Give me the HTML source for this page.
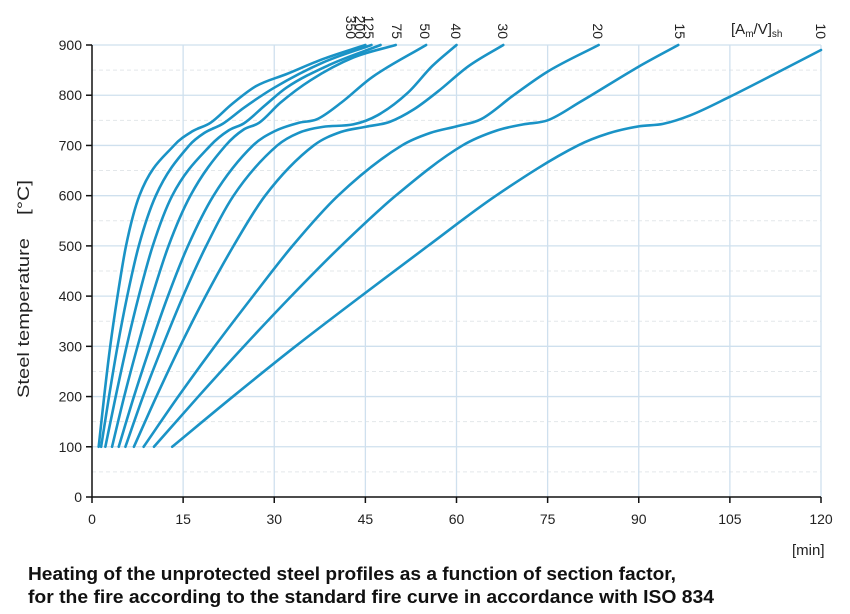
<!DOCTYPE html>
<html><head><meta charset="utf-8"><style>
html,body{margin:0;padding:0;background:#fff;}
svg{display:block;font-family:"Liberation Sans",sans-serif;}
</style></head><body>
<svg id="chart" width="850" height="614" viewBox="0 0 850 614" xmlns="http://www.w3.org/2000/svg">
<g id="grid"></g>
<g id="series"></g>
<g id="axes"></g>
<g id="labels"></g>
<text x="731" y="34" font-size="15" fill="#222">[A<tspan font-size="10" dy="3">m</tspan><tspan dy="-3">/V]</tspan><tspan font-size="10" dy="3">sh</tspan></text>
<text transform="translate(29,398) rotate(-90)" font-size="17" fill="#222" textLength="160" lengthAdjust="spacingAndGlyphs">Steel temperature</text>
<text transform="translate(29,215) rotate(-90)" font-size="17" fill="#222" textLength="35" lengthAdjust="spacingAndGlyphs">[°C]</text>
<text x="792" y="555" font-size="15" fill="#222">[min]</text>
<text x="28" y="580" font-size="18" font-weight="bold" fill="#111" textLength="648" lengthAdjust="spacingAndGlyphs">Heating of the unprotected steel profiles as a function of section factor,</text>
<text x="28" y="603" font-size="18" font-weight="bold" fill="#111" textLength="686" lengthAdjust="spacingAndGlyphs">for the fire according to the standard fire curve in accordance with ISO 834</text>
</svg>
<script>
const seriesNames = ["350","200","125","75","50","40","30","20","15","10"];
const t350 = [1.1,2.0,3.0,4.2,5.6,7.8,13.5,16.5,19.5,23,27,32,38,45];
const v350 = [100,200,300,400,500,600,700,728,745,782,818,842,872,900];
const t200 = [1.5,2.8,4.2,5.8,7.7,10.5,16,18.5,21.5,25,30,38,46];
const v200 = [100,200,300,400,500,600,700,725,743,775,815,865,900];
const t125 = [2.2,3.9,5.7,7.7,10.0,13.2,19.5,22.5,25,28.5,32,39,47.5];
const v125 = [100,200,300,400,500,600,700,730,744,780,815,860,900];
const t75 = [3.3,5.3,7.5,9.9,12.6,16.2,22,25,27.5,31,36,43,50];
const v75 = [100,200,300,400,500,600,700,732,745,785,830,875,900];
const t50 = [4.4,6.9,9.6,12.5,15.8,20.0,26.5,30,34,37,41,46,55];
const v50 = [100,200,300,400,500,600,700,728,745,752,785,835,900];
const t40 = [5.5,8.4,11.6,15.0,18.8,23.3,30.5,34,38,43,47,52,56,60];
const v40 = [100,200,300,400,500,600,700,725,737,742,760,805,858,900];
const t30 = [6.9,10.6,14.5,18.7,23.3,28.5,36.5,41,45,49,53,57,62,67.7];
const v30 = [100,200,300,400,500,600,700,727,737,747,772,808,858,900];
const t20 = [8.5,14.2,20.2,26.5,33,40.5,51,55.7,60,64,69.4,75,83.4];
const v20 = [100,200,300,400,500,600,700,725,738,752,800,847,900];
const t15 = [10.2,17.5,25,32.8,41,50,61,66.7,71,75,80.4,90,96.5];
const v15 = [100,200,300,400,500,600,700,730,742,750,787,857,900];
const t10 = [13.2,23.2,33.5,44.3,55.3,66.5,80,85,90,94,98.5,105,112,120];
const v10 = [100,200,300,400,500,600,700,724,738,743,760,797,840,890];
const xTicks = [0,15,30,45,60,75,90,105,120];
const yTicks = [0,100,200,300,400,500,600,700,800,900];

const NS="http://www.w3.org/2000/svg";
const X0=92,X1=821,Y0=497,Y1=45;
function xs(t){return X0+(t/120)*(X1-X0);}
function ys(v){return Y0-(v/900)*(Y0-Y1);}
function mk(tag,attrs,parent){const e=document.createElementNS(NS,tag);for(const k in attrs)e.setAttribute(k,attrs[k]);parent.appendChild(e);return e;}
const grid=document.getElementById('grid'),axes=document.getElementById('axes'),ser=document.getElementById('series'),lab=document.getElementById('labels');

for(let v=50;v<=900;v+=50){
  const major=v%100===0;
  const l=mk('line',{x1:X0,x2:X1,y1:ys(v),y2:ys(v),stroke:major?'#cfe0ee':'#e3e7ea','stroke-width':major?1.3:1,'stroke-dasharray':major?'none':'4 3'},grid);
  
  
}
xTicks.forEach(t=>{if(t===0)return;
  const l=mk('line',{x1:xs(t),x2:xs(t),y1:Y1,y2:Y0,stroke:'#cfe0ee','stroke-width':1.3},grid);
  
  
});

const ya=mk('line',{x1:X0,x2:X0,y1:Y1,y2:Y0,stroke:'#111','stroke-width':1.5},axes);


const xa=mk('line',{x1:X0,x2:X1,y1:Y0,y2:Y0,stroke:'#111','stroke-width':1.5},axes);


yTicks.forEach(v=>{
  const tk=mk('line',{x1:X0-6,x2:X0,y1:ys(v),y2:ys(v),stroke:'#111','stroke-width':1.5},axes);
  
  
  const tx=mk('text',{x:X0-10,y:ys(v)+5,'text-anchor':'end','font-size':14,fill:'#222'},axes);
  tx.textContent=v;
  
  
});
xTicks.forEach(t=>{
  const tk=mk('line',{x1:xs(t),x2:xs(t),y1:Y0,y2:Y0+6,stroke:'#111','stroke-width':1.5},axes);
  
  
  const tx=mk('text',{x:xs(t),y:Y0+27,'text-anchor':'middle','font-size':14,fill:'#222'},axes);
  tx.textContent=t;
  
  
});

function monoPath(T,V){
  const P=T.map((t,i)=>[xs(t),ys(V[i])]);const n=P.length;
  const d=[],m=[];
  for(let i=0;i<n-1;i++)d.push((P[i+1][1]-P[i][1])/(P[i+1][0]-P[i][0]));
  m[0]=d[0];m[n-1]=d[n-2];
  for(let i=1;i<n-1;i++){m[i]=(d[i-1]*d[i]<=0)?0:(d[i-1]+d[i])/2;}
  for(let i=0;i<n-1;i++){if(d[i]===0){m[i]=0;m[i+1]=0;continue;}
    const a=m[i]/d[i],b=m[i+1]/d[i],s=a*a+b*b;if(s>9){const k=3/Math.sqrt(s);m[i]=k*a*d[i];m[i+1]=k*b*d[i];}}
  let s='M'+P[0][0].toFixed(2)+','+P[0][1].toFixed(2);
  for(let i=0;i<n-1;i++){const h=(P[i+1][0]-P[i][0])/3;
    s+=' C'+(P[i][0]+h).toFixed(2)+','+(P[i][1]+m[i]*h).toFixed(2)+' '+(P[i+1][0]-h).toFixed(2)+','+(P[i+1][1]-m[i+1]*h).toFixed(2)+' '+P[i+1][0].toFixed(2)+','+P[i+1][1].toFixed(2);}
  return s;
}
const allT=[t350,t200,t125,t75,t50,t40,t30,t20,t15,t10];
const allV=[v350,v200,v125,v75,v50,v40,v30,v20,v15,v10];
const labelX=[351,360,369,397,425,456,503,598,680,821];
seriesNames.forEach((nm,i)=>{
  const p=mk('path',{d:monoPath(allT[i],allV[i]),fill:'none',stroke:'#1a93c6','stroke-width':2.6,'stroke-linecap':'round','stroke-linejoin':'round'},ser);
  
  
  const tx=mk('text',{transform:'translate('+(labelX[i]-5)+',12) rotate(90)','font-size':14,fill:'#222'},lab);
  tx.textContent=nm;
  
  
});
lab.querySelectorAll('text').forEach(tx=>{const w=tx.getComputedTextLength();const x=parseFloat(tx.getAttribute('transform').match(/translate\(([\d.]+)/)[1]);tx.setAttribute('transform','translate('+x+','+(39-w)+') rotate(90)');});
</script>
</body></html>
